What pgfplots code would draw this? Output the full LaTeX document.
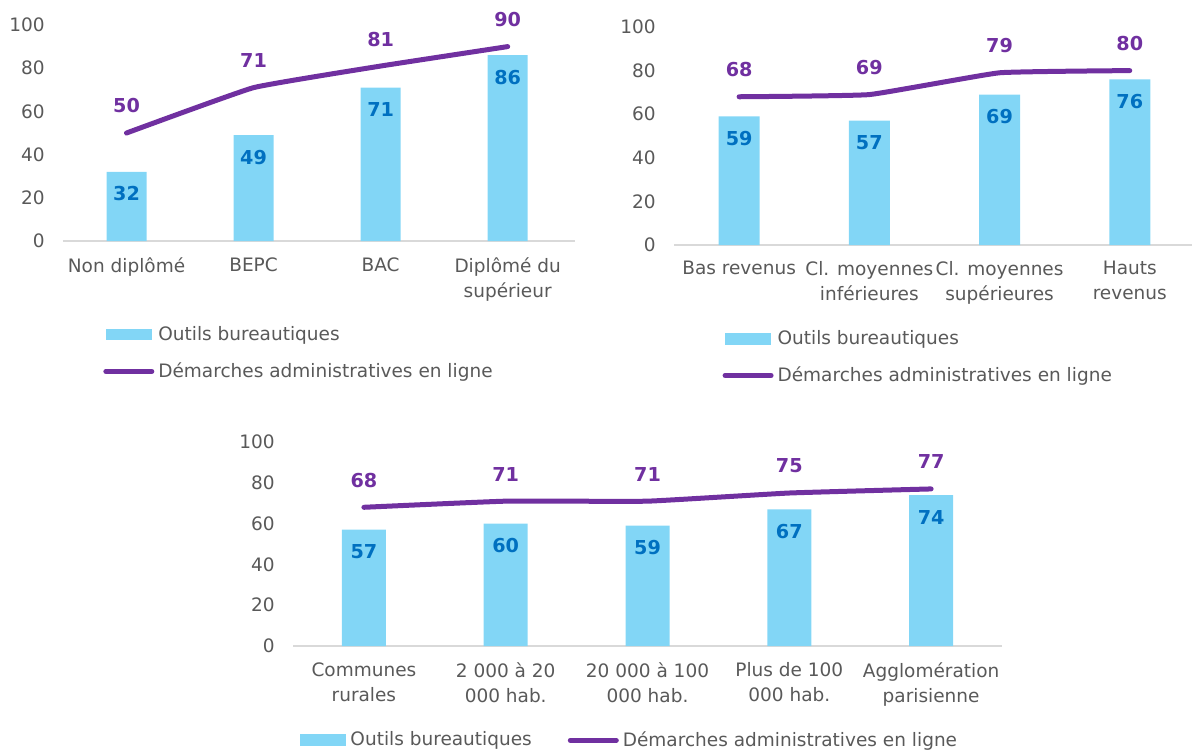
\documentclass[border=0pt]{standalone}
\usepackage{pgfplots}
\pgfplotsset{compat=1.18}
\usepackage{fontspec}
\setmainfont{DejaVu Sans}
\definecolor{barblue}{RGB}{130,214,246}
\definecolor{linepurple}{RGB}{112,48,160}
\definecolor{labelblue}{RGB}{0,112,192}
\definecolor{tickgray}{RGB}{89,89,89}
\definecolor{axisgray}{RGB}{217,217,217}
\newcommand{\chartfont}{\fontsize{9.25}{12.5}\selectfont}
\pgfplotsset{
  panel/.style={
    scale only axis, anchor=south west, clip=false,
    ymin=0, ymax=100, ytick={0,20,...,100},
    axis x line=bottom, axis y line=left,
    x axis line style={draw=axisgray, line width=1pt, -},
    y axis line style={draw=none},
    major tick length=0pt,
    tick label style={font=\chartfont, text=tickgray},
    yticklabel style={inner sep=0pt, xshift=-9pt},
    xticklabel style={align=center, inner sep=0pt, yshift=-8pt},
    /pgf/number format/assume math mode=true,
    legend cell align=left,
    legend style={draw=none, fill=none, inner sep=0pt, font=\chartfont,
      text=tickgray, anchor=north west, row sep=5.5pt,
      nodes={inner sep=2pt}},
  },
  bars/.style={ybar, fill=barblue, draw=none, bar width=#1,
    nodes near coords,
    every node near coord/.append style={font=\fontsize{9.6}{12}\selectfont\bfseries,
      text=labelblue, anchor=center, yshift=-11pt},
    legend image code/.code={\fill[barblue] (0pt,-2.75pt) rectangle (23pt,3pt);}},
  trend/.style={color=linepurple, line width=2.5pt, line cap=round,
    line join=round, smooth, tension=0.2, mark=none,
    nodes near coords,
    every node near coord/.append style={font=\fontsize{9.6}{12}\selectfont\bfseries,
      text=linepurple, anchor=center, yshift=13.5pt},
    legend image code/.code={\draw[linepurple, line width=2.5pt, line cap=round]
      (0pt,0pt) -- (23pt,0pt);}},
}
\begin{document}
\begin{tikzpicture}
\path[use as bounding box] (0,0) rectangle (596pt,-374.5pt);

% diplome
\begin{axis}[panel, at={(31.5pt,-120.5pt)}, width=256pt, height=108pt,
  xmin=-0.5, xmax=3.53, xtick={0,1,2,3},
  xticklabels={Non diplômé, BEPC, BAC, {Diplômé du\\supérieur}},
  legend style={at={(axis description cs:0.078,-0.375)}}]
  \addplot[bars=20pt] coordinates {(0,32) (1,49) (2,71) (3,86)};
  \addlegendentry{Outils bureautiques}
  \addplot[trend] coordinates {(0,50) (1,71) (2,81) (3,90)};
  \addlegendentry{Démarches administratives en ligne}
\end{axis}

% revenus
\begin{axis}[panel, at={(337pt,-122.5pt)}, width=259pt, height=109pt,
  xmin=-0.5, xmax=3.478, xtick={0,1,2,3},
  xticklabels={Bas revenus, {Cl. moyennes\\inférieures}, {Cl. moyennes\\supérieures}, {Hauts\\revenus}},
  legend style={at={(axis description cs:0.093,-0.372)}}]
  \addplot[bars=20.5pt] coordinates {(0,59) (1,57) (2,69) (3,76)};
  \addlegendentry{Outils bureautiques}
  \addplot[trend] coordinates {(0,68) (1,69) (2,79) (3,80)};
  \addlegendentry{Démarches administratives en ligne}
\end{axis}

% taille d'agglomeration
\begin{axis}[panel, at={(146.5pt,-323pt)}, width=354.5pt, height=102pt,
  xmin=-0.5, xmax=4.5, xtick={0,1,2,3,4},
  xticklabels={{Communes\\rurales}, {2 000 à 20\\000 hab.}, {20 000 à 100\\000 hab.}, {Plus de 100\\000 hab.}, {Agglomération\\parisienne}},
  legend columns=2,
  legend style={at={(axis description cs:0.01,-0.397)},
    /tikz/every even column/.append style={column sep=16pt}}]
  \addplot[bars=22pt] coordinates {(0,57) (1,60) (2,59) (3,67) (4,74)};
  \addlegendentry{Outils bureautiques}
  \addplot[trend] coordinates {(0,68) (1,71) (2,71) (3,75) (4,77)};
  \addlegendentry{Démarches administratives en ligne}
\end{axis}
\end{tikzpicture}
\end{document}
